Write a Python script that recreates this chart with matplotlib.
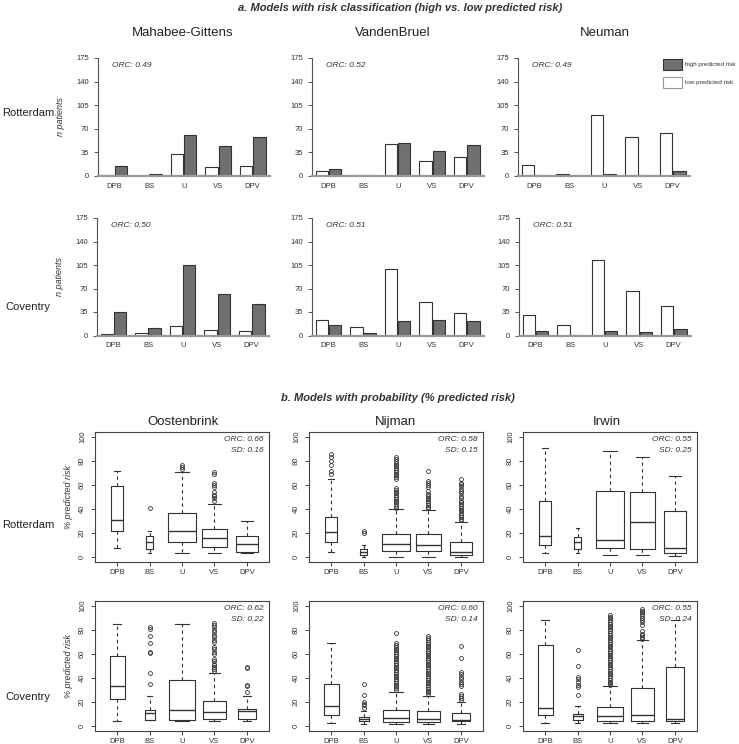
import numpy as np
import matplotlib
matplotlib.use('Agg')
import matplotlib.pyplot as plt

plt.rcParams['font.family'] = ['Liberation Sans', 'DejaVu Sans']

W, H = 739, 744

cats = ['DPB', 'BS', 'U', 'VS', 'DPV']

# part a: n patients, low (white) and high (gray) predicted risk
mg_rot_low = [1.5, 0.5, 32.5, 13, 14.5]
mg_rot_high = [15.5, 2.5, 61, 44.5, 58]
vb_rot_low = [7, 2, 47, 22.5, 28.5]
vb_rot_high = [10, 2, 48.5, 37.5, 45.5]
nm_rot_low = [17, 3, 90.5, 57.5, 64.5]
nm_rot_high = [1, 1, 2.5, 1, 8]
mg_cov_low = [2.5, 4, 14.5, 8.5, 7]
mg_cov_high = [35, 11.5, 105, 62, 47]
vb_cov_low = [22.5, 13, 99.5, 49.5, 33]
vb_cov_high = [15.5, 3.5, 21.5, 22.5, 21]
nm_cov_low = [30.5, 15, 113, 66, 44]
nm_cov_high = [6.5, 1, 7, 5, 9]
orc_a = ['0.49', '0.52', '0.49', '0.50', '0.51', '0.51']

# part b: [whisker low, q1, median, q3, whisker high] per category
oo_rot = [[7.5, 22, 31, 59.5, 71.5], [3.7, 7, 12.3, 17.7, 22], [3.7, 13, 22, 36.6, 70.5],
          [3.7, 8.6, 15.7, 23.4, 44.5], [3.7, 4.5, 10.6, 17.7, 30]]
oo_rot_out = [[], [41], [73.5, 75, 77], [47, 49, 51, 52, 54, 58, 60, 62, 69, 70.5], []]

nj_rot = [[4, 12.9, 21, 33.7, 65], [0.5, 2, 4, 7, 10], [0, 5.5, 11, 19, 39.7],
          [0, 5.5, 10, 19, 39], [0, 2, 4.6, 13, 29]]
nj_rot_out = [[69, 72, 77, 80, 83.5, 86],
              [20.5, 21.8],
              [41, 42.5, 44, 45.5, 47, 48.5, 50, 51.5, 53, 54.5, 56, 57.5, 65, 66.5, 68, 69.5,
               71, 72.5, 74, 75.5, 77, 78.5, 80, 81.5, 83],
              [40.5, 42, 43.5, 45, 46.5, 48, 49.5, 51, 52.5, 55, 58, 60, 62, 63.5, 72],
              [30.5, 32, 33.5, 35, 36.5, 38, 39.5, 41, 42.5, 44, 45.5, 47, 49, 51, 53, 55, 57,
               59, 60.5, 62, 65]]

ir_rot = [[3.3, 10, 17.8, 46.6, 90.5], [3.5, 6.8, 13, 17, 24.5], [2.2, 7.7, 14.5, 55, 88],
          [2, 6.8, 29.6, 54, 83.5], [1.4, 3.3, 7.4, 38.4, 67.5]]
ir_rot_out = [[], [], [], [], []]

oo_cov = [[4.5, 22.7, 33.3, 58.7, 84.5], [4.8, 5.3, 11.2, 13.3, 24.8], [4.5, 5.3, 13.3, 38, 84.5],
          [4.5, 5.9, 12, 20.8, 44], [4.5, 5.9, 12.8, 14.1, 25.3]]
oo_cov_out = [[], [34.7, 44, 60.5, 61.5, 69, 74.7, 80.8, 82], [],
              [46, 47.5, 49, 50.5, 52, 54, 56, 60, 62, 64, 66, 70, 72, 74, 76, 78, 80, 82, 84, 86],
              [28, 33, 34.5, 48, 49.5]]

nj_cov = [[2.7, 9.3, 16.8, 34.7, 69.3], [1.9, 4, 6.1, 8, 12.8], [1.9, 3.5, 7.2, 13.3, 28.5],
          [1.9, 3.5, 5.9, 12.5, 25.3], [1.9, 4, 5.3, 10.7, 20.5]]
nj_cov_out = [[],
              [14.7, 17.3, 18.7, 20.5, 25.9, 34.7],
              [30, 31.5, 33, 34.5, 36, 37.5, 39, 40.5, 42, 43.5, 45, 46.5, 48, 49.5, 51, 52.5,
               54, 55.5, 57, 58.5, 60, 61.5, 63, 64.5, 66, 67.5, 69, 77.5],
              [26.5, 28, 29.5, 31, 32.5, 34, 35.5, 37, 38.5, 40, 41.5, 43, 44.5, 46, 47.5, 49,
               50.5, 52, 53.5, 55, 56.5, 58, 59.5, 61, 62.5, 64, 65.5, 67, 68.5, 70, 71.5, 73, 75],
              [22, 23.5, 25, 27, 33, 35, 37, 39, 41, 43, 45, 57, 67]]

ir_cov = [[2.7, 9.6, 15, 67.4, 88.5], [2.7, 5.5, 8.2, 9.9, 16.4], [2.7, 4.1, 8.2, 15.9, 33],
          [2.7, 4.4, 9, 31.5, 71.5], [2.7, 4.1, 6.3, 48.8, 88]]
ir_cov_out = [[],
              [26.3, 32.3, 34.2, 36.4, 39.2, 41, 50, 63],
              [34, 35.5, 37, 38.5, 40, 41.5, 43, 44.5, 46, 47.5, 49, 50.5, 52, 53.5, 55, 56.5,
               58, 59.5, 61, 62.5, 64, 65.5, 67, 68.5, 70, 71.5, 73, 74.5, 76, 77.5, 79, 80.5,
               82, 83.5, 85, 86.5, 88, 89.5, 91, 92.5],
              [72.5, 74, 75.5, 77, 79, 84, 86.5, 88.5, 90, 91.5, 93, 94.5, 96, 97],
              []]

orc_b = ['0.66', '0.58', '0.55', '0.62', '0.60', '0.55']
sd_b = ['0.16', '0.15', '0.25', '0.22', '0.14', '0.24']

rot_widths = [0.36, 0.21, 0.85, 0.75, 0.70]
cov_widths = [0.46, 0.31, 0.82, 0.68, 0.54]


def px_axes(fig, left, top, width, height):
    return fig.add_axes([left / W, 1 - (top + height) / H, width / W, height / H])


def bar_panel(fig, left, top, bottom, low, high, orc, ylab=False):
    ax = px_axes(fig, left, top, 172, bottom - top)
    x = np.arange(1, 6)
    ax.bar(x - 0.19, low, width=0.36, color='white', edgecolor='#333333', linewidth=0.8)
    ax.bar(x + 0.19, high, width=0.36, color='#707070', edgecolor='#333333', linewidth=0.8)
    ax.set_xlim(0.52, 5.5)
    ax.set_ylim(0, 175)
    ax.set_yticks([0, 35, 70, 105, 140, 175])
    ax.set_xticks(x)
    ax.set_xticklabels(cats)
    for s in ['top', 'right']:
        ax.spines[s].set_visible(False)
    ax.spines['left'].set_color('#555555')
    ax.spines['left'].set_linewidth(0.8)
    ax.spines['bottom'].set_color('#999999')
    ax.spines['bottom'].set_linewidth(1.6)
    ax.tick_params(axis='y', length=3, width=0.7, colors='#555555', labelsize=5.5, labelcolor='#333333')
    ax.tick_params(axis='x', length=0, pad=5, labelsize=5.5, labelcolor='#333333')
    ax.text(0.08, 0.92, 'ORC: ' + orc, transform=ax.transAxes, fontsize=6,
            style='italic', color='#333333')
    if ylab:
        ax.set_ylabel('n patients', fontsize=6.5, style='italic', labelpad=8, color='#333333')
    return ax


def box_panel(fig, left, top, height, summ, outs, widths, orc, sd, ylab=False):
    ax = px_axes(fig, left, top, 174, height)
    stats = []
    for i in range(5):
        lo, q1, med, q3, hi = summ[i]
        stats.append(dict(whislo=lo, q1=q1, med=med, q3=q3, whishi=hi, fliers=outs[i]))
    caps = [w * 0.5 for w in widths]
    ax.bxp(stats, positions=range(1, 6), widths=widths, capwidths=caps,
           boxprops=dict(color='#333333', linewidth=0.8),
           medianprops=dict(color='#333333', linewidth=1.0),
           whiskerprops=dict(color='#333333', linewidth=0.8, linestyle=(0, (3, 3))),
           capprops=dict(color='#333333', linewidth=0.8),
           flierprops=dict(marker='o', markersize=2.8, markerfacecolor='none',
                           markeredgecolor='#333333', markeredgewidth=0.6))
    ax.set_xlim(0.32, 5.68)
    ax.set_ylim(-4, 104)
    ax.set_yticks([0, 20, 40, 60, 80, 100])
    ax.set_yticklabels(['0', '20', '40', '60', '80', '100'], rotation=90, va='center')
    ax.set_xticks(range(1, 6))
    ax.set_xticklabels(cats)
    for s in ax.spines.values():
        s.set_color('#444444')
        s.set_linewidth(0.8)
    ax.tick_params(length=3, width=0.7, colors='#444444', labelsize=5.5, labelcolor='#333333')
    ax.tick_params(axis='x', pad=2)
    ax.text(0.97, 0.94, 'ORC: ' + orc, transform=ax.transAxes, fontsize=6,
            style='italic', ha='right', va='center', color='#333333')
    ax.text(0.97, 0.86, 'SD: ' + sd, transform=ax.transAxes, fontsize=6,
            style='italic', ha='right', va='center', color='#333333')
    if ylab:
        ax.set_ylabel('% predicted risk', fontsize=6.5, style='italic', labelpad=4, color='#333333')
    return ax


fig = plt.figure(figsize=(W / 100, H / 100), dpi=100)

# part a
bar_panel(fig, 98, 58, 176, mg_rot_low, mg_rot_high, orc_a[0], ylab=True)
bar_panel(fig, 312, 58, 176, vb_rot_low, vb_rot_high, orc_a[1])
bar_panel(fig, 518, 58, 176, nm_rot_low, nm_rot_high, orc_a[2])
bar_panel(fig, 97, 218, 335.5, mg_cov_low, mg_cov_high, orc_a[3], ylab=True)
bar_panel(fig, 312, 218, 335.5, vb_cov_low, vb_cov_high, orc_a[4])
bar_panel(fig, 519, 218, 335.5, nm_cov_low, nm_cov_high, orc_a[5])

# legend
fig.patches.append(plt.Rectangle((663 / W, 1 - 70 / H), 19 / W, 11 / H, transform=fig.transFigure,
                                 facecolor='#707070', edgecolor='#333333', linewidth=0.8))
fig.patches.append(plt.Rectangle((663 / W, 1 - 88 / H), 19 / W, 11 / H, transform=fig.transFigure,
                                 facecolor='white', edgecolor='#999999', linewidth=0.8))
fig.text(685 / W, 1 - 64.5 / H, 'high predicted risk', fontsize=4.5, va='center', color='#333333')
fig.text(685 / W, 1 - 82.5 / H, 'low predicted risk', fontsize=4.5, va='center', color='#333333')

# part b
box_panel(fig, 95, 432, 130, oo_rot, oo_rot_out, rot_widths, orc_b[0], sd_b[0], ylab=True)
box_panel(fig, 309, 432, 130, nj_rot, nj_rot_out, rot_widths, orc_b[1], sd_b[1])
box_panel(fig, 523, 432, 130, ir_rot, ir_rot_out, rot_widths, orc_b[2], sd_b[2])
box_panel(fig, 95, 601, 130, oo_cov, oo_cov_out, cov_widths, orc_b[3], sd_b[3], ylab=True)
box_panel(fig, 309, 601, 130, nj_cov, nj_cov_out, cov_widths, orc_b[4], sd_b[4])
box_panel(fig, 523, 601, 130, ir_cov, ir_cov_out, cov_widths, orc_b[5], sd_b[5])

# titles
fig.text(400 / W, 1 - 8 / H, 'a. Models with risk classification (high vs. low predicted risk)',
         ha='center', va='center', fontsize=8, fontweight='bold', style='italic', color='#333333')
fig.text(398 / W, 1 - 398 / H, 'b. Models with probability (% predicted risk)',
         ha='center', va='center', fontsize=8, fontweight='bold', style='italic', color='#333333')
for name, xc in [('Mahabee-Gittens', 183), ('VandenBruel', 393), ('Neuman', 605)]:
    fig.text(xc / W, 1 - 33 / H, name, ha='center', va='center', fontsize=9.5, color='#222222')
for name, xc in [('Oostenbrink', 183), ('Nijman', 395), ('Irwin', 607)]:
    fig.text(xc / W, 1 - 422 / H, name, ha='center', va='center', fontsize=9.5, color='#222222')
for name, yc in [('Rotterdam', 113), ('Coventry', 307), ('Rotterdam', 525), ('Coventry', 697)]:
    fig.text(28 / W, 1 - yc / H, name, ha='center', va='center', fontsize=8, color='#222222')

fig.savefig('out.png', dpi=100)
